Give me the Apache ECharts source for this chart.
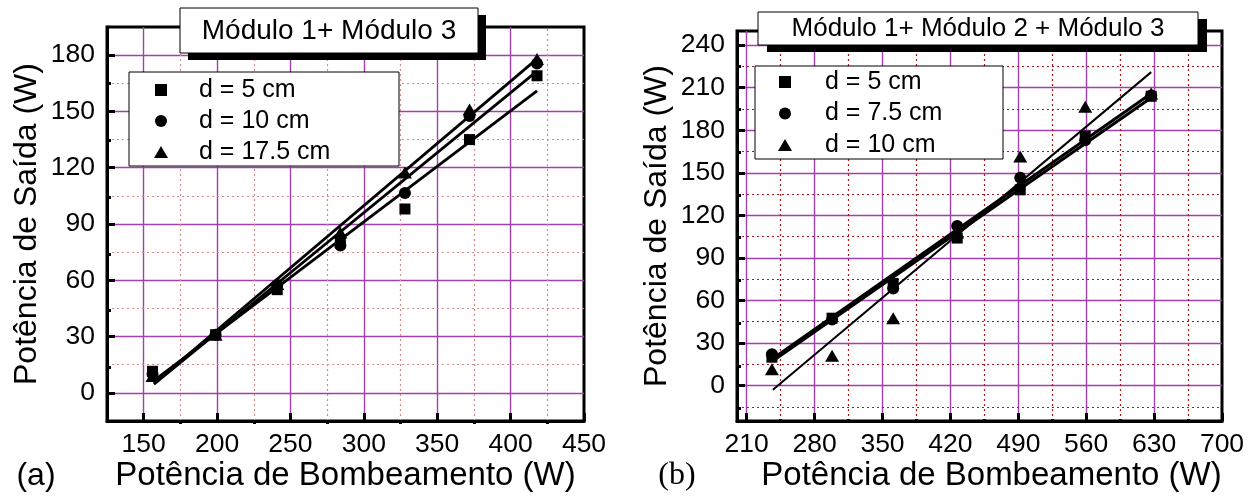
<!DOCTYPE html>
<html>
<head>
<meta charset="utf-8">
<script src="https://cdn.jsdelivr.net/npm/echarts/dist/echarts.min.js"></script>
<style>
  html, body { margin: 0; padding: 0; background: #fff; }
  #chart { width: 1260px; height: 497px; }
</style>
</head>
<body>
<div id="chart"></div>
<script>
// ---- Panel (a): Módulo 1 + Módulo 3 ----
const pumpA   = [156, 199, 241, 284, 328, 372, 418];
const outA5   = [11.5, 31, 55, 80, 98, 135, 169];
const outA10  = [10, 31, 57.5, 78.5, 106.5, 147.5, 175.5];
const outA175 = [9, 31, 58, 85.5, 117.5, 151, 178];
// linear fit end points
const fitA5   = [[157, 6.5], [418, 161]];
const fitA10  = [[157, 4.6], [418, 171.5]];
const fitA175 = [[157, 5], [418, 178]];
const namesA  = ['d = 5 cm', 'd = 10 cm', 'd = 17.5 cm'];
const xMajorA = [150, 200, 250, 300, 350, 400, 450];
const xMinorA = [175, 225, 275, 325, 375, 425];
const yMajorA = [0, 30, 60, 90, 120, 150, 180];
const yMinorA = [15, 45, 75, 105, 135, 165];

// ---- Panel (b): Módulo 1 + Módulo 2 + Módulo 3 ----
const pumpB   = [236, 298, 361, 427, 492, 559, 627];
const outB5   = [20, 47.5, 72, 104, 138, 176, 204];
const outB75  = [22, 46.5, 68.5, 112.5, 146.5, 173, 204.5];
const outB10  = [11.5, 21, 47.5, 108, 161.5, 196.5, 206];
const fitB5   = [[236, 17], [627, 203]];
const fitB75  = [[236, 18.5], [627, 206]];
const fitB10  = [[237, -3], [627, 221]];
const namesB  = ['d = 5 cm', 'd = 7.5 cm', 'd = 10 cm'];
const xMajorB = [210, 280, 350, 420, 490, 560, 630, 700];
const xMinorB = [245, 315, 385, 455, 525, 595, 665];
const yMajorB = [0, 30, 60, 90, 120, 150, 180, 210, 240];
const yMinorB = [-15, 15, 45, 75, 105, 135, 165, 195, 225];

const SANS  = "'Liberation Sans', Arial, Helvetica, sans-serif";
const SERIF = "'Liberation Serif', 'Times New Roman', serif";
const INK = '#000';
const GRID_MAJOR = '#a23fb0';
const SYMBOLS = ['rect', 'circle', 'triangle'];
const SYMBOL_SIZES = [11, 12, [14, 12]];
// legend icons: square kept square, circle, wider triangle
const LEGEND_ICONS = ['path://M0,0H10V10H0Z', 'circle', 'triangle'];

const panels = [
  {
    rect: { left: 107, top: 27, width: 477, height: 397 },
    xRange: [125, 450], yRange: [-15, 195],
    xMajor: xMajorA, xMinor: xMinorA, yMajor: yMajorA, yMinor: yMinorA,
    minorColor: '#cf8c8c',
    pump: pumpA, outs: [outA5, outA10, outA175], fits: [fitA5, fitA10, fitA175],
    fitWidths: [2.8, 2.8, 2.8],
    names: namesA,
    legend: { left: 154, top: 77.5, textGap: 26, itemGap: 6 },
    xNamePad: 0
  },
  {
    rect: { left: 737, top: 31, width: 485, height: 392 },
    xRange: [200, 700], yRange: [-25, 250],
    xMajor: xMajorB, xMinor: xMinorB, yMajor: yMajorB, yMinor: yMinorB,
    minorColor: '#a81c1c',
    pump: pumpB, outs: [outB5, outB75, outB10], fits: [fitB5, fitB75, fitB10],
    fitWidths: [3, 3, 2],
    names: namesB,
    legend: { left: 778, top: 69.5, textGap: 28, itemGap: 6.5 },
    xNamePad: 24
  }
];

const grids = [], xAxes = [], yAxes = [], series = [], legends = [];

panels.forEach((p) => {
  const gMain = grids.length;
  grids.push(Object.assign({ show: true, borderColor: INK, borderWidth: 3, backgroundColor: '#fff' }, p.rect));
  const gMinor = grids.length;
  grids.push(Object.assign({ show: false }, p.rect));

  const labelStyle = { fontSize: 26.5, fontFamily: SANS, color: INK };
  const axisLine = { show: true, onZero: false, lineStyle: { color: INK, width: 3 } };

  // main axes: frame line, long ticks, labels and titles
  xAxes.push({
    gridIndex: gMain, type: 'value', min: p.xRange[0], max: p.xRange[1], z: 8,
    axisLine: axisLine,
    axisTick: { show: true, inside: true, length: 8, lineStyle: { color: INK, width: 3 }, customValues: p.xMajor },
    axisLabel: Object.assign({ margin: 10, customValues: p.xMajor }, labelStyle),
    splitLine: { show: false },
    name: 'Potência de Bombeamento (W)', nameLocation: 'middle', nameGap: 38, nameMoveOverlap: false,
    nameTextStyle: { fontSize: 33, fontFamily: SANS, color: INK, padding: [0, 0, 0, p.xNamePad] }
  });
  yAxes.push({
    gridIndex: gMain, type: 'value', min: p.yRange[0], max: p.yRange[1], z: 8,
    axisLine: axisLine,
    axisTick: { show: true, inside: true, length: 8, lineStyle: { color: INK, width: 3 }, customValues: p.yMajor },
    axisLabel: Object.assign({ margin: 12, customValues: p.yMajor }, labelStyle),
    splitLine: { show: false },
    name: 'Potência de Saída (W)', nameLocation: 'middle', nameGap: 64, nameMoveOverlap: false,
    nameTextStyle: { fontSize: 32, fontFamily: SANS, color: INK }
  });
  // companion axes in an overlaid grid: short minor ticks only
  xAxes.push({
    gridIndex: gMinor, type: 'value', min: p.xRange[0], max: p.xRange[1], z: 8,
    axisLine: { show: false, onZero: false },
    axisTick: { show: true, inside: true, length: 4, lineStyle: { color: INK, width: 3 }, customValues: p.xMinor },
    axisLabel: { show: false }, splitLine: { show: false }
  });
  yAxes.push({
    gridIndex: gMinor, type: 'value', min: p.yRange[0], max: p.yRange[1], z: 8,
    axisLine: { show: false, onZero: false },
    axisTick: { show: true, inside: true, length: 4, lineStyle: { color: INK, width: 3 }, customValues: p.yMinor },
    axisLabel: { show: false }, splitLine: { show: false }
  });

  const xi = gMain, yi = gMain;

  // grid lines: solid purple at major values, dotted red at minor values
  const gridLineSeries = (xs, ys, lineStyle) => ({
    type: 'line', xAxisIndex: xi, yAxisIndex: yi, data: [], silent: true,
    markLine: {
      silent: true, z: 1, animation: false, symbol: ['none', 'none'],
      label: { show: false }, emphasis: { disabled: true }, lineStyle,
      data: xs.filter(v => v < p.xRange[1]).map(v => ({ xAxis: v }))
        .concat(ys.filter(v => v < p.yRange[1]).map(v => ({ yAxis: v })))
    }
  });
  series.push(gridLineSeries(p.xMajor, p.yMajor, { color: GRID_MAJOR, width: 1.4, type: 'solid' }));
  series.push(gridLineSeries(p.xMinor, p.yMinor, { color: p.minorColor, width: 1.2, type: [2, 3] }));

  // linear fits
  p.fits.forEach((f, i) => {
    series.push({
      type: 'line', xAxisIndex: xi, yAxisIndex: yi, data: f, showSymbol: false, symbol: 'none',
      silent: true, z: 2, animation: false,
      lineStyle: { color: INK, width: p.fitWidths[i] }
    });
  });

  // measured points
  p.outs.forEach((ys, i) => {
    series.push({
      type: 'scatter', name: p.names[i], xAxisIndex: xi, yAxisIndex: yi, z: 2, animation: false,
      symbol: SYMBOLS[i], symbolSize: SYMBOL_SIZES[i], itemStyle: { color: INK, opacity: 1 },
      data: p.pump.map((x, j) => [x, ys[j]])
    });
  });

  legends.push({
    orient: 'vertical', left: p.legend.left, top: p.legend.top, padding: 0, z: 6,
    itemWidth: 14, itemHeight: 12, itemGap: p.legend.itemGap,
    selectedMode: false,
    textStyle: { fontSize: 25, lineHeight: 25, fontFamily: SANS, color: INK, padding: [0, 0, 0, p.legend.textGap] },
    data: p.names.map((n, i) => ({ name: n, icon: LEGEND_ICONS[i], itemStyle: { color: INK, opacity: 1 } }))
  });
});

const graphic = [
  // title (a) with drop shadow
  { type: 'rect', z: 10, shape: { x: 188, y: 15, width: 298, height: 45 }, style: { fill: INK } },
  { type: 'rect', z: 11, shape: { x: 180, y: 8, width: 298, height: 45 }, style: { fill: '#fff', stroke: INK, lineWidth: 1 } },
  { type: 'text', z: 12, x: 329, y: 31, style: { text: 'Módulo 1+ Módulo 3', fontSize: 28, fontFamily: SANS, fill: INK, align: 'center', verticalAlign: 'middle' } },
  // title (b) with drop shadow
  { type: 'rect', z: 10, shape: { x: 767, y: 19, width: 440, height: 33 }, style: { fill: INK } },
  { type: 'rect', z: 11, shape: { x: 758, y: 12, width: 440, height: 33 }, style: { fill: '#fff', stroke: INK, lineWidth: 1 } },
  { type: 'text', z: 12, x: 978, y: 29, style: { text: 'Módulo 1+ Módulo 2 + Módulo 3', fontSize: 26, fontFamily: SANS, fill: INK, align: 'center', verticalAlign: 'middle' } },
  // legend frames
  { type: 'rect', z: 3, shape: { x: 129, y: 72, width: 270, height: 94 }, style: { fill: '#fff', stroke: INK, lineWidth: 1 } },
  { type: 'rect', z: 3, shape: { x: 755, y: 66, width: 248, height: 93 }, style: { fill: '#fff', stroke: INK, lineWidth: 1 } },
  // panel tags
  { type: 'text', z: 12, x: 36, y: 476, style: { text: '(a)', fontSize: 32, fontFamily: SANS, fill: INK, align: 'center', verticalAlign: 'middle' } },
  { type: 'text', z: 12, x: 677, y: 476, style: { text: '(b)', fontSize: 32, fontFamily: SERIF, fill: INK, align: 'center', verticalAlign: 'middle' } }
];

const chart = echarts.init(document.getElementById('chart'), null, { renderer: 'canvas' });
chart.setOption({
  animation: false,
  backgroundColor: '#fff',
  grid: grids,
  xAxis: xAxes,
  yAxis: yAxes,
  legend: legends,
  series: series,
  graphic: graphic
});
</script>
</body>
</html>
